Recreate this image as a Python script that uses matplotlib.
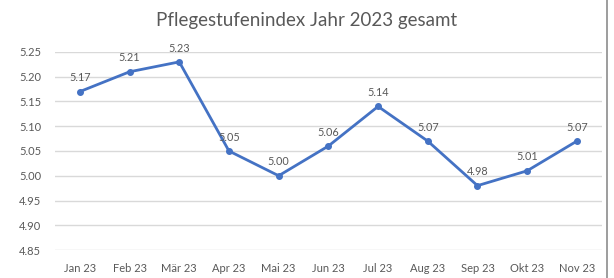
import matplotlib.pyplot as plt
from matplotlib.lines import Line2D

months = ["Jan 23", "Feb 23", "Mär 23", "Apr 23", "Mai 23", "Jun 23",
          "Jul 23", "Aug 23", "Sep 23", "Okt 23", "Nov 23"]
index_values = [5.17, 5.21, 5.23, 5.05, 5.00, 5.06, 5.14, 5.07, 4.98, 5.01, 5.07]
y_ticks = [4.85, 4.90, 4.95, 5.00, 5.05, 5.10, 5.15, 5.20, 5.25]
title = "Pflegestufenindex Jahr 2023 gesamt"

plt.rcParams["font.family"] = ["Lato", "DejaVu Sans"]

fig = plt.figure(figsize=(6.14, 2.78), dpi=100)
ax = fig.add_axes([0.0896, 0.1007, 0.8904, 0.7123])

x = list(range(len(months)))
ax.plot(x, index_values, color="#4472C4", linewidth=2, marker="o",
        markersize=4, zorder=3)

for xi, v in zip(x, index_values):
    ax.annotate("%.2f" % v, (xi, v), xytext=(0, 6), textcoords="offset points",
                ha="center", va="bottom", fontsize=7.8, color="#595959")

ax.set_xlim(-0.5, len(months) - 0.5)
ax.set_ylim(4.85, 5.25)
ax.set_yticks(y_ticks)
ax.set_yticklabels(["%.2f" % t for t in y_ticks])
ax.set_xticks(x)
ax.set_xticklabels(months)
ax.tick_params(axis="both", length=0, labelsize=8, colors="#595959")
ax.tick_params(axis="x", pad=9)
ax.tick_params(axis="y", pad=10)
ax.grid(axis="y", color="#D9D9D9", linewidth=1)
ax.set_axisbelow(True)
for s in ax.spines.values():
    s.set_visible(False)

fig.text(0.5, 0.925, title, ha="center", va="center", fontsize=13.5,
         color="#595959")

# right edge of the screenshot frame
fig.add_artist(Line2D([0.9885, 0.9885], [0, 1], transform=fig.transFigure,
                      color="#8C8C8C", linewidth=1.2))

fig.savefig("out.png", dpi=100)
